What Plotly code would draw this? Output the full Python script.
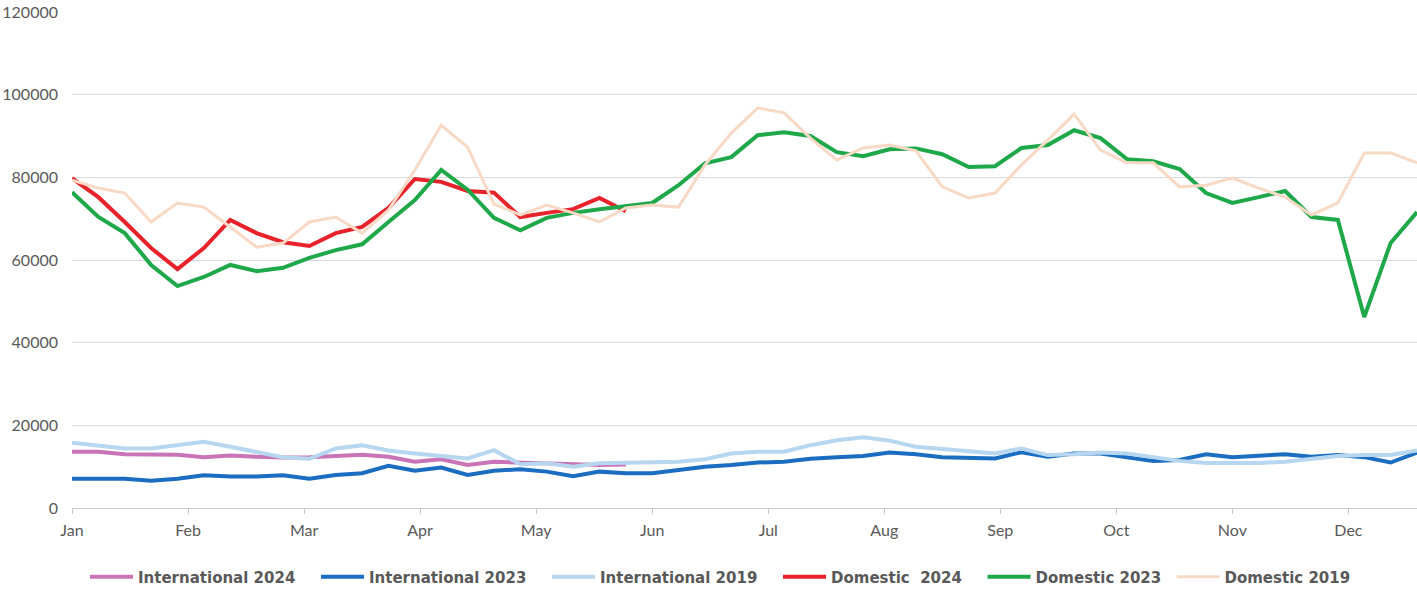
import plotly.graph_objects as go

# Week index 0..51 (weekly points through the year)
weeks = list(range(52))
month_labels = ["Jan", "Feb", "Mar", "Apr", "May", "Jun", "Jul", "Aug", "Sep", "Oct", "Nov", "Dec"]
weeks_per_month_tick = 4.4

intl_2024 = [13600, 13600, 13000, 13000, 12900, 12300, 12700, 12400, 12200, 12300, 12700, 12900,
             12400, 11200, 11800, 10400, 11200, 11000, 10800, 10600, 10400, 10500]
intl_2023 = [7100, 7100, 7100, 6600, 7100, 7900, 7600, 7600, 7900, 7100, 8000, 8400,
             10200, 9000, 9800, 8000, 9000, 9400, 8800, 7700, 8800, 8400, 8400, 9200,
             10000, 10400, 11000, 11200, 11900, 12300, 12600, 13400, 13000, 12300, 12200, 12000,
             13500, 12400, 13200, 13200, 12300, 11400, 11600, 13000, 12300, 12700, 13000, 12400,
             12800, 12300, 11000, 13400]
intl_2019 = [15800, 15000, 14400, 14400, 15200, 16000, 14800, 13600, 12300, 11900, 14400, 15200,
             13900, 13200, 12600, 12000, 14000, 10600, 10800, 10000, 10800, 11000, 11200, 11200,
             11800, 13200, 13600, 13600, 15200, 16400, 17100, 16300, 14800, 14200, 13600, 13200,
             14400, 12800, 13000, 13400, 13200, 12400, 11400, 10900, 10900, 10900, 11200, 11800,
             12600, 12800, 12800, 13900]
dom_2024 = [79800, 75200, 69200, 62900, 57800, 62900, 69700, 66500, 64300, 63400, 66500, 68000,
            72600, 79600, 78900, 76700, 76300, 70400, 71400, 72300, 75000, 71800]
dom_2023 = [76400, 70400, 66500, 58800, 53700, 55900, 58800, 57300, 58100, 60500, 62400, 63800,
            69200, 74500, 81800, 77000, 70200, 67200, 70200, 71400, 72300, 73000, 73800, 78100,
            83400, 84900, 90200, 90900, 90000, 86100, 85100, 86800, 87000, 85600, 82500, 82700,
            87100, 87800, 91400, 89500, 84400, 83900, 82000, 76200, 73800, 75200, 76700, 70400,
            69700, 46200, 64100, 71600]
dom_2019 = [79300, 77400, 76200, 69200, 73800, 72800, 68000, 63100, 64100, 69200, 70400, 66500,
            72100, 81800, 92600, 87300, 73500, 70900, 73300, 71400, 69200, 72600, 73300, 72800,
            83000, 90700, 96800, 95600, 89500, 84200, 87100, 87800, 86400, 77700, 75000, 76200,
            83000, 89000, 95300, 86600, 83500, 83500, 77700, 78100, 79800, 77400, 75200, 70900,
            73800, 85900, 85900, 83500]

series_names = ["International 2024", "International 2023", "International 2019",
                "Domestic\u00a0 2024", "Domestic 2023", "Domestic 2019"]
series_values = [intl_2024, intl_2023, intl_2019, dom_2024, dom_2023, dom_2019]
series_colors = ["#C974B6", "#1B6DC1", "#B7D6EF", "#E8222B", "#1FA84A", "#F8D9C5"]
series_widths = [4, 4, 4, 4, 4, 3]
legend_pad = ["\u00a0\u00a0\u00a0", "\u00a0\u00a0\u00a0", "\u00a0\u00a0\u00a0",
              "\u00a0\u00a0\u00a0", "\u00a0", ""]

fig = go.Figure()
for name, vals, color, width, pad in zip(series_names, series_values, series_colors,
                                          series_widths, legend_pad):
    fig.add_trace(go.Scatter(
        x=weeks[:len(vals)], y=vals, name=name + pad, mode="lines",
        line=dict(color=color, width=width),
    ))

tickvals = [i * weeks_per_month_tick for i in range(len(month_labels))]

fig.update_layout(
    width=1417, height=589,
    margin=dict(l=72, r=0, t=12, b=81),
    paper_bgcolor="white", plot_bgcolor="white",
    font=dict(family="Lato, 'Open Sans', sans-serif", size=16, color="#595959"),
    showlegend=True,
    legend=dict(
        orientation="h", xref="container", x=0.06, xanchor="left",
        yref="container", y=0.0204, yanchor="middle",
        font=dict(family="'DejaVu Sans', Verdana, sans-serif", size=15, color="#595959", weight="bold"),
        itemwidth=43, tracegroupgap=0,
    ),
    xaxis=dict(
        range=[0, 51], tickmode="array", tickvals=tickvals, ticktext=month_labels,
        showgrid=False, zeroline=False, showline=True, linecolor="#C8C8C8", linewidth=1,
        ticks="outside", ticklen=5, tickcolor="#C8C8C8", ticklabelstandoff=3,
        tickfont=dict(size=16, color="#595959"), automargin=False,
    ),
    yaxis=dict(
        range=[0, 120000], dtick=20000, tickformat="d",
        showgrid=True, gridcolor="#D9D9D9", gridwidth=1, zeroline=False,
        showline=False, ticks="", ticklabelstandoff=13,
        tickfont=dict(size=16, color="#595959"), automargin=False,
    ),
)

fig.write_html("out.html", config={"displayModeBar": False},
               post_script="document.body.style.margin='0';document.body.style.padding='0';")
